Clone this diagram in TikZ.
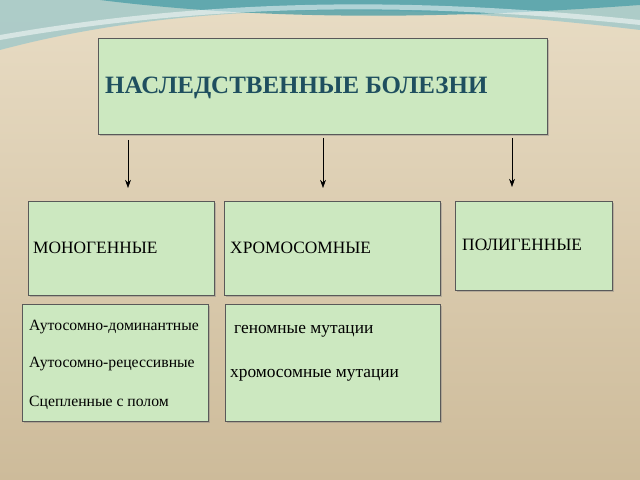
\documentclass[tikz,border=0pt]{standalone}
\usepackage{fontspec}
\setmainfont{Liberation Serif}
\usetikzlibrary{shadows,arrows.meta}
\definecolor{bg1}{HTML}{E8DCC4}
\definecolor{bg2}{HTML}{CDBB9A}
\definecolor{boxg}{HTML}{CCE8C0}
\definecolor{ttl}{HTML}{1F4F5F}
\definecolor{wave}{HTML}{4FA0A8}
\begin{document}
\begin{tikzpicture}[x=0.03cm,y=-0.03cm,
  box/.style={draw=gray!70!black,fill=boxg,line width=0.5pt,drop shadow={shadow xshift=1.2pt,shadow yshift=-1.2pt,opacity=0.4}},
  lbl/.style={font=\fontsize{14.8pt}{17pt}\selectfont,anchor=west,inner sep=0},
  sml/.style={font=\fontsize{13.4pt}{16pt}\selectfont,anchor=west,inner sep=0},
  arr/.style={-{Stealth[length=7pt,width=5pt]},line width=0.5pt}]
\useasboundingbox (0,0) rectangle (640,480);
\shade[top color=bg1,bottom color=bg2] (0,0) rectangle (640,480);
\fill[wave!60!white,opacity=0.7] (0,50) .. controls (150,10) and (350,-5) .. (640,30) -- (640,0) -- (0,0) -- cycle;
\fill[wave,opacity=0.8] (100,0) .. controls (300,25) and (500,15) .. (640,5) -- (640,0) -- cycle;
\fill[white,opacity=0.5] (0,40) .. controls (200,5) and (400,0) .. (640,25) -- (640,20) .. controls (400,-5) and (200,0) .. (0,35) -- cycle;
\node[box,minimum width=449*0.03cm,minimum height=96*0.03cm,anchor=north west] (t) at (98,38) {};
\node[anchor=west,inner sep=0,text=ttl,font=\fontsize{21.3pt}{24pt}\selectfont\bfseries] (tt) at (105,88) {НАСЛЕДСТВЕННЫЕ БОЛЕЗНИ};
\node[box,minimum width=186*0.03cm,minimum height=94*0.03cm,anchor=north west] (m) at (28,201) {};
\node[box,minimum width=216*0.03cm,minimum height=94*0.03cm,anchor=north west] (h) at (224,201) {};
\node[box,minimum width=157*0.03cm,minimum height=89*0.03cm,anchor=north west] (p) at (455,201) {};
\node[lbl] (mt) at (33,248) {МОНОГЕННЫЕ};
\node[lbl] (ht) at (230,248) {ХРОМОСОМНЫЕ};
\node[lbl] (pt) at (462,245) {ПОЛИГЕННЫЕ};
\coordinate (a1) at (128,140); \coordinate (b1) at (128,188);
\coordinate (a2) at (323,138); \coordinate (b2) at (323,188);
\coordinate (a3) at (512,138); \coordinate (b3) at (512,187);
\draw[arr] (a1) -- (b1); \draw[arr] (a2) -- (b2); \draw[arr] (a3) -- (b3);
\node[box,minimum width=186*0.03cm,minimum height=117*0.03cm,anchor=north west] (l) at (22,304) {};
\node[box,minimum width=215*0.03cm,minimum height=117*0.03cm,anchor=north west] (r) at (225,304) {};
\node[sml] (l1) at (29,327) {Аутосомно-доминантные};
\node[sml] (l2) at (29,364) {Аутосомно-рецессивные};
\node[sml] (l3) at (29,403) {Сцепленные с полом};
\node[lbl] (r1) at (234,331) {геномные мутации};
\node[lbl] (r2) at (230,375) {хромосомные мутации};
\end{tikzpicture}
\end{document}
